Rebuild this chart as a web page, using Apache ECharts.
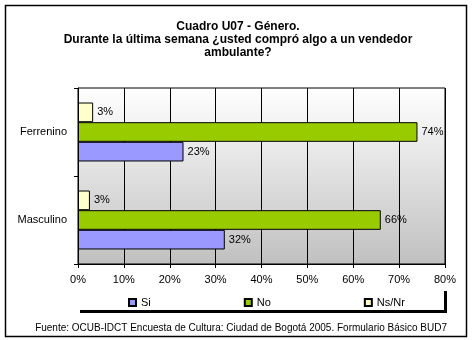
<!DOCTYPE html>
<html><head><meta charset="utf-8">
<script src="https://cdn.jsdelivr.net/npm/echarts@6/dist/echarts.min.js"></script>
<style>html,body{margin:0;padding:0;background:#fff}#c{width:476px;height:340px}</style>
</head><body><div id="c"></div>
<script>
var categories = ['Masculino', 'Ferrenino'];
var seriesNames = ['Si', 'No', 'Ns/Nr'];
var siValues = [32, 23];
var noValues = [66, 74];
var nsnrValues = [2.6, 3.3];
var xTicks = [0, 10, 20, 30, 40, 50, 60, 70, 80];
var colors = ['#9999FF', '#99CC00', '#FFFFCC'];
var titleText = 'Cuadro U07 - Género.\nDurante la última semana ¿usted compró algo a un vendedor\nambulante?';
var sourceText = 'Fuente: OCUB-IDCT Encuesta de Cultura: Ciudad de Bogotá 2005. Formulario Básico BUD7';

var FONT = 'Liberation Sans, Arial, sans-serif';
var chart = echarts.init(document.getElementById('c'));
function mk(name, data, color) {
  return {
    name: name, type: 'bar', data: data,
    barGap: '0%', barCategoryGap: '33%',
    itemStyle: { color: color, borderColor: '#000', borderWidth: 1 },
    label: { show: true, position: 'right', distance: 4, color: '#000', fontFamily: FONT, fontSize: 11,
      formatter: function (p) { return Math.round(p.value) + '%'; } }
  };
}
chart.setOption({
  animation: false,
  title: { text: titleText, left: 'center', top: 15,
    textStyle: { fontFamily: FONT, fontSize: 12, fontWeight: 'bold', color: '#000', lineHeight: 13 } },
  grid: { left: 78, right: 31, top: 88, bottom: 76, show: true, borderColor: '#000', borderWidth: 1,
    backgroundColor: { type: 'linear', x: 0, y: 0, x2: 0, y2: 1, colorStops: [{ offset: 0, color: '#ffffff' }, { offset: 1, color: '#c0c0c0' }] } },
  legend: { data: seriesNames, left: 80, top: 294, itemWidth: 7, itemHeight: 7, itemGap: 93,
    padding: [3, 10, 3, 48], icon: 'rect',
    textStyle: { fontFamily: FONT, fontSize: 11, color: '#000' } },
  xAxis: { type: 'value', min: xTicks[0], max: xTicks[xTicks.length - 1], interval: 10,
    axisLine: { show: true, lineStyle: { color: '#000' } },
    axisTick: { show: true, length: 4, lineStyle: { color: '#000' } },
    splitLine: { show: true, lineStyle: { color: '#000', width: 1 } },
    axisLabel: { formatter: '{value}%', color: '#000', fontFamily: FONT, fontSize: 11, margin: 10 } },
  yAxis: { type: 'category', data: categories,
    axisLine: { show: true, lineStyle: { color: '#000' } },
    axisTick: { show: true, length: 4, lineStyle: { color: '#000' } },
    axisLabel: { color: '#000', fontFamily: FONT, fontSize: 11, margin: 11 } },
  series: [mk(seriesNames[2], nsnrValues, colors[2]), mk(seriesNames[1], noValues, colors[1]), mk(seriesNames[0], siValues, colors[0])],
  graphic: [
    { type: 'rect', shape: { x: 5.5, y: 5.5, width: 461, height: 331 }, style: { fill: 'none', stroke: '#000', lineWidth: 1.5 }, z: 100 },
    { type: 'rect', shape: { x: 80, y: 310, width: 367, height: 3 }, style: { fill: '#000' } },
    { type: 'rect', shape: { x: 444, y: 291, width: 3, height: 22 }, style: { fill: '#000' } },
    { type: 'text', right: 476 - 447, top: 323, style: { text: sourceText, fontFamily: FONT, fontSize: 10, fill: '#000', align: 'right' } }
  ]
});
</script></body></html>
